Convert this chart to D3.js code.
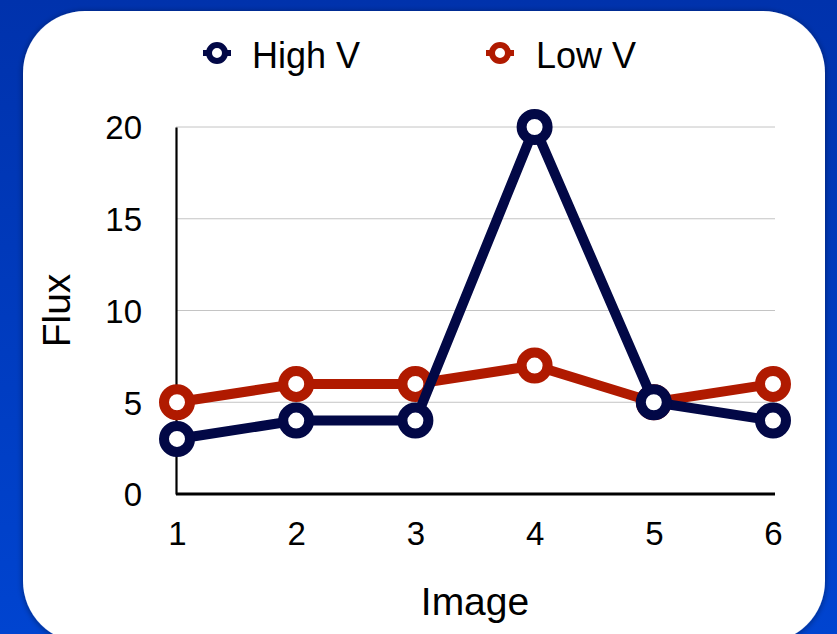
<!DOCTYPE html>
<html>
<head>
<meta charset="utf-8">
<script src="https://cdn.jsdelivr.net/npm/d3@7"></script>
<style>
  html, body { margin: 0; padding: 0; background: #0038b8; }
  svg { display: block; }
  text { font-family: "Liberation Sans", Arial, Helvetica, sans-serif; fill: #000; }
</style>
</head>
<body>
<svg id="chart" width="837" height="634"></svg>
<script>
// Flux measured per image, two voltage settings
const images = [1, 2, 3, 4, 5, 6];
const highV = [3, 4, 4, 20, 5, 4];
const lowV = [5, 6, 6, 7, 5, 6];
const yTicks = [0, 5, 10, 15, 20];
const seriesNames = ["High V", "Low V"];
const seriesColors = ["#020846", "#b01a00"];

const W = 837, H = 634;
const svg = d3.select("#chart");
const defs = svg.append("defs");

// blue backdrop
const bg = defs.append("linearGradient").attr("id", "bg").attr("x1", 0).attr("y1", 0).attr("x2", 0).attr("y2", 1);
bg.append("stop").attr("offset", "0%").attr("stop-color", "#0032ac");
bg.append("stop").attr("offset", "100%").attr("stop-color", "#0044d0");
svg.append("rect").attr("width", W).attr("height", H).attr("fill", "url(#bg)");

// card shadow
const f = defs.append("filter").attr("id", "shadow").attr("x", "-10%").attr("y", "-10%").attr("width", "120%").attr("height", "120%");
f.append("feGaussianBlur").attr("in", "SourceAlpha").attr("stdDeviation", 3);
f.append("feOffset").attr("dx", 0).attr("dy", 1).attr("result", "b");
f.append("feComponentTransfer").append("feFuncA").attr("type", "linear").attr("slope", 0.45);
const fm = f.append("feMerge");
fm.append("feMergeNode");
fm.append("feMergeNode").attr("in", "SourceGraphic");

svg.append("rect")
  .attr("x", 23).attr("y", 11).attr("width", 802).attr("height", 632)
  .attr("rx", 62).attr("ry", 62)
  .attr("fill", "#ffffff")
  .attr("filter", "url(#shadow)");

// scales
const x = d3.scaleLinear().domain([1, 6]).range([177, 773]);
const y = d3.scaleLinear().domain([0, 20]).range([494, 127]);
const xLeft = 176, xRight = 775;

// gridlines
svg.append("g").selectAll("line")
  .data(yTicks.filter(d => d > 0))
  .join("line")
  .attr("x1", xLeft).attr("x2", xRight)
  .attr("y1", d => y(d)).attr("y2", d => y(d))
  .attr("stroke", "#c4c4c4").attr("stroke-width", 1);

// y axis
const yAxis = svg.append("g")
  .attr("transform", `translate(${xLeft},0)`)
  .call(d3.axisLeft(y).tickValues(yTicks).tickSize(0).tickPadding(34));
yAxis.select(".domain").attr("stroke", "#000").attr("stroke-width", 2.2);
yAxis.selectAll("text").attr("font-size", 33).attr("dy", "0.36em")
  .style("font-family", "'Liberation Sans', Arial, sans-serif").attr("fill", "#000");

// x axis
const xAxis = svg.append("g")
  .attr("transform", `translate(0,${y(0)})`)
  .call(d3.axisBottom(x).tickValues(images).tickFormat(d3.format("d")).tickSize(0).tickPadding(28));
xAxis.select(".domain").attr("d", `M${xLeft},0H${xRight}`).attr("stroke", "#000").attr("stroke-width", 3);
xAxis.selectAll("text").attr("font-size", 33).attr("dy", "0.71em")
  .style("font-family", "'Liberation Sans', Arial, sans-serif").attr("fill", "#000");

// axis titles
svg.append("text")
  .attr("x", (x(1) + x(6)) / 2).attr("y", 615)
  .attr("text-anchor", "middle").attr("font-size", 39)
  .text("Image");
svg.append("text")
  .attr("transform", `translate(70,${(y(0) + y(20)) / 2}) rotate(-90)`)
  .attr("text-anchor", "middle").attr("font-size", 39)
  .text("Flux");

// series (Low V underneath, High V on top)
const series = [
  { name: seriesNames[1], values: lowV, color: seriesColors[1] },
  { name: seriesNames[0], values: highV, color: seriesColors[0] }
];
const line = d3.line().x((d, i) => x(images[i])).y(d => y(d));

series.forEach(s => {
  const g = svg.append("g");
  g.append("path")
    .attr("d", line(s.values))
    .attr("fill", "none")
    .attr("stroke", s.color)
    .attr("stroke-width", 10)
    .attr("stroke-linejoin", "miter");
  g.selectAll("circle")
    .data(s.values)
    .join("circle")
    .attr("cx", (d, i) => x(images[i]))
    .attr("cy", d => y(d))
    .attr("r", 13)
    .attr("fill", "#fff")
    .attr("stroke", s.color)
    .attr("stroke-width", 10);
});

// legend
const legendItems = [
  { name: seriesNames[0], color: seriesColors[0], mx: 217, tx: 252 },
  { name: seriesNames[1], color: seriesColors[1], mx: 500, tx: 536 }
];
const lg = svg.append("g");
legendItems.forEach(it => {
  lg.append("line")
    .attr("x1", it.mx - 14).attr("x2", it.mx + 14)
    .attr("y1", 53).attr("y2", 53)
    .attr("stroke", it.color).attr("stroke-width", 6);
  lg.append("circle")
    .attr("cx", it.mx).attr("cy", 53).attr("r", 8)
    .attr("fill", "#fff").attr("stroke", it.color).attr("stroke-width", 6);
  lg.append("text")
    .attr("x", it.tx).attr("y", 68)
    .attr("font-size", 36)
    .text(it.name);
});
</script>
</body>
</html>
